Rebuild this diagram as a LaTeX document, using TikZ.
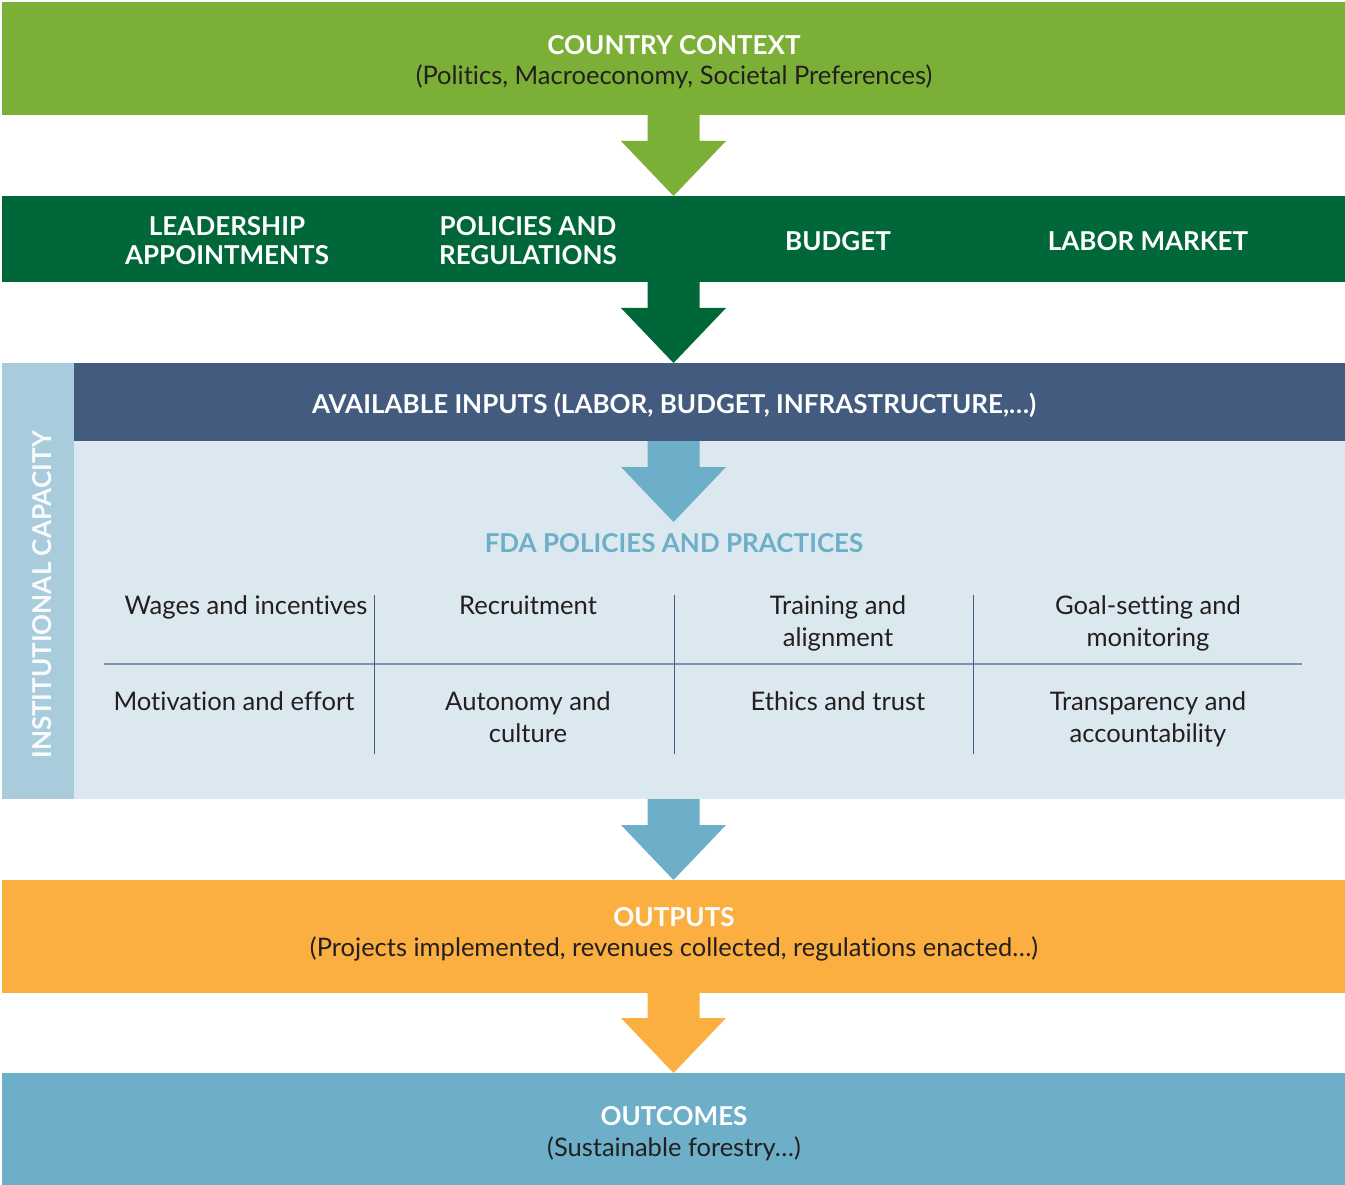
\documentclass[tikz,border=0pt]{standalone}
\usepackage{fontspec}
\setmainfont{Lato}[Ligatures=NoCommon]
\usetikzlibrary{calc}
\definecolor{lgreen}{HTML}{7BAF36}
\definecolor{dgreen}{HTML}{006838}
\definecolor{navy}{HTML}{425B7E}
\definecolor{pale}{HTML}{DCE8EF}
\definecolor{sidebar}{HTML}{A9CCDC}
\definecolor{skyblue}{HTML}{6DAFC8}
\definecolor{orange}{HTML}{FBAF41}
\definecolor{ink}{HTML}{231F20}
\definecolor{gridline}{HTML}{7E93AE}
\newcommand{\blockarrow}[3]{%
  \fill[#1] let \p1=(#2), \p2=(#3) in
    (\x1-26pt,\y1) -- (\x1+26pt,\y1) -- (\x1+26pt,\y2+55pt) -- (\x1+52.5pt,\y2+55pt)
    -- (\x1,\y2) -- (\x1-52.5pt,\y2+55pt) -- (\x1-26pt,\y2+55pt) -- cycle;}
\begin{document}
\begin{tikzpicture}[x=1pt,y=-1pt,
  band/.style={anchor=north west,inner sep=0pt,outer sep=0pt,draw=none},
  head/.style={font=\bfseries\fontsize{26}{29}\selectfont,text=white,align=center,inner sep=0pt},
  sub/.style={font=\fontsize{25.5}{32}\selectfont,text=ink,align=center,inner sep=0pt},
  cell/.style={font=\fontsize{25.6}{32}\selectfont,text=ink,align=center,inner sep=0pt,anchor=north},
  vline/.style={draw=navy,line width=1pt},
  hline/.style={draw=gridline,line width=1.8pt}]
\useasboundingbox (0,0) rectangle (1345,1185);
% bands
\node[band,fill=lgreen,minimum width=1343pt,minimum height=113pt] (ctx) at (2,2) {};
\node[band,fill=dgreen,minimum width=1343pt,minimum height=86pt] (lead) at (2,196) {};
\node[band,fill=sidebar,minimum width=72pt,minimum height=436pt] (side) at (2,363) {};
\node[band,fill=navy,minimum width=1271pt,minimum height=78pt] (inputs) at (74,363) {};
\node[band,fill=pale,minimum width=1271pt,minimum height=358pt] (practice) at (74,441) {};
\node[band,fill=orange,minimum width=1343pt,minimum height=113pt] (outputs) at (2,880) {};
\node[band,fill=skyblue,minimum width=1343pt,minimum height=112pt] (outcomes) at (2,1073) {};
\coordinate (fdatip) at (ctx.south |- 0,522);
% arrows
\blockarrow{lgreen}{ctx.south}{lead.north}
\blockarrow{dgreen}{lead.south}{ctx.south |- inputs.north}
\blockarrow{skyblue}{ctx.south |- inputs.south}{fdatip}
\blockarrow{skyblue}{ctx.south |- practice.south}{outputs.north}
\blockarrow{orange}{outputs.south}{outcomes.north}
% texts
\node[head] (t1) at (674,45) {COUNTRY CONTEXT};
\node[sub] (t1s) at (674,77) {(Politics, Macroeconomy, Societal Preferences)};
\node[head] (l1) at (227,241) {LEADERSHIP\\APPOINTMENTS};
\node[head] (l2) at (528,241) {POLICIES AND\\REGULATIONS};
\node[head] (l3) at (838,241) {BUDGET};
\node[head] (l4) at (1148,241) {LABOR MARKET};
\node[head] (ai) at (674,405) {AVAILABLE INPUTS (LABOR, BUDGET, INFRASTRUCTURE,…)};
\node[head,text=skyblue] (fda) at (674,543) {FDA POLICIES AND PRACTICES};
\node[head,rotate=90,font=\bfseries\fontsize{26}{28}\selectfont,text=white!92!sidebar] (ic) at (42,595) {INSTITUTIONAL CAPACITY};
% grid
\node[cell] (c11) at (246,592) {\strut Wages and incentives};
\node[cell] (c12) at (528,592) {\strut Recruitment};
\node[cell] (c13) at (838,592) {\strut Training and\\alignment};
\node[cell] (c14) at (1148,592) {\strut Goal-setting and\\monitoring};
\node[cell] (c21) at (234,688) {\strut Motivation and effort};
\node[cell] (c22) at (528,688) {\strut Autonomy and\\culture};
\node[cell] (c23) at (838,688) {\strut Ethics and trust};
\node[cell] (c24) at (1148,688) {\strut Transparency and\\accountability};
\coordinate (hl) at (104,664);
\coordinate (hr) at (1302,664);
\draw[hline] (hl) -- (hr);
\coordinate (v1t) at (374.5,595); \coordinate (v1b) at (374.5,754);
\coordinate (v2t) at (674,595); \coordinate (v2b) at (674,754);
\coordinate (v3t) at (973.5,595); \coordinate (v3b) at (973.5,754);
\draw[vline] (v1t) -- (v1b);
\draw[vline] (v2t) -- (v2b);
\draw[vline] (v3t) -- (v3b);
% bottom texts
\node[head] (o1) at (674,917) {OUTPUTS};
\node[sub] (o1s) at (674,949) {(Projects implemented, revenues collected, regulations enacted…)};
\node[head] (o2) at (674,1116) {OUTCOMES};
\node[sub] (o2s) at (674,1149) {(Sustainable forestry…)};
\end{tikzpicture}
\end{document}
